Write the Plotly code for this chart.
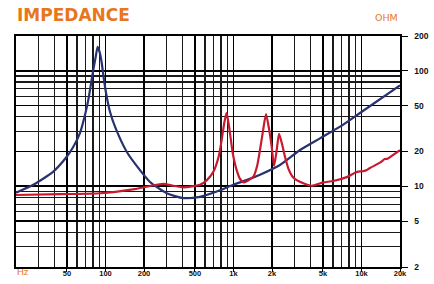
import plotly.graph_objects as go

# ---- text ----
title_text = "IMPEDANCE"
unit_text = "OHM"
freq_unit = "Hz"

# ---- data ----
blue_freq = [20, 27.3, 39.1, 49.8, 56.1, 63.2, 69.2, 73.4, 80.3, 83.9, 86.9, 90.6, 93.5,
             97.4, 102.3, 108.5, 118.7, 146.5, 186, 223, 301, 406, 548, 740, 997,
             1264, 1611, 2309, 3311, 4743, 6796, 9739, 20000]
blue_ohm = [8.8, 10.3, 13.4, 18.0, 22.0, 28.9, 41.4, 55.8, 101.6, 132, 161, 141.6, 116.8,
            83.2, 59.6, 44.2, 32.8, 19.9, 13.8, 10.9, 8.7, 7.9, 8.1, 9.0, 10.3,
            11.3, 12.6, 15.3, 20.6, 26.0, 32.8, 43.1, 74.8]

red_freq = [20, 44, 91, 164, 223, 283, 339, 406, 548, 620, 700, 770, 809, 850, 882, 912,
            939, 990, 1059, 1130, 1208, 1300, 1429, 1530, 1611, 1700, 1795, 1890, 1989,
            2075, 2170, 2270, 2400, 2527, 2700, 2933, 3512, 4083, 5024, 6023, 7666,
            9200, 10300, 11000, 11670, 13960, 15200, 16000, 16710, 20000]
red_ohm = [8.4, 8.55, 8.7, 9.4, 10.05, 10.5, 10.1, 9.8, 10.3, 11.3, 13.5, 18.5, 25.2, 36,
           43, 36, 28.9, 19, 13.8, 11.5, 10.8, 11.2, 12.1, 15, 20.6, 30, 42.2, 32, 22.0,
           15.0, 20, 28.4, 23, 18.0, 14, 11.9, 10.6, 10.1, 10.8, 11.1, 12.0,
           13.3, 13.5, 13.8, 14.4, 16.0, 17.2, 17.3, 17.9, 20.5]

# ---- axes ----
x_tick_vals = [50, 100, 200, 500, 1000, 2000, 5000, 10000, 20000]
x_tick_text = ["50", "100", "200", "500", "1k", "2k", "5k", "10k", "20k"]
x_minor_vals = [30, 40, 60, 70, 80, 90, 300, 400, 600, 700, 800, 900,
                3000, 4000, 6000, 7000, 8000, 9000]
y_tick_vals = [2, 5, 10, 20, 50, 100, 200]
y_tick_text = ["2", "5", "10", "20", "50", "100", "200"]
y_minor_vals = [3, 4, 6, 7, 8, 9, 30, 40, 60, 70, 80, 90]

ORANGE = "#E8761C"
BLUE = "#28326F"
RED = "#C8192E"

fig = go.Figure()
fig.add_trace(go.Scatter(x=blue_freq, y=blue_ohm, mode="lines",
                         line=dict(color=BLUE, width=2.2, shape="spline", smoothing=0.6),
                         hoverinfo="skip"))
fig.add_trace(go.Scatter(x=red_freq, y=red_ohm, mode="lines",
                         line=dict(color=RED, width=2.2, shape="spline", smoothing=0.6),
                         hoverinfo="skip"))

fig.update_layout(
    width=434, height=284,
    margin=dict(l=16, r=34, t=36, b=17),
    paper_bgcolor="white", plot_bgcolor="white",
    showlegend=False,
    xaxis=dict(
        type="log", range=[1.30103, 4.30103],
        tickmode="array", tickvals=x_tick_vals, ticktext=x_tick_text,
        ticks="outside", ticklen=3, tickcolor="black", tickwidth=1,
        tickfont=dict(family="Liberation Sans", size=7.5, color="#111111", weight="bold"),
        ticklabelstandoff=-5,
        showgrid=True, gridcolor="#000000", gridwidth=1.6,
        minor=dict(tickmode="array", tickvals=x_minor_vals, showgrid=True,
                   gridcolor="#1a1a1a", gridwidth=1.2, ticks=""),
        showline=True, mirror=True, linecolor="black", linewidth=1.6,
        zeroline=False, fixedrange=True, automargin=False,
    ),
    yaxis=dict(
        type="log", range=[0.30103, 2.30103], side="right",
        tickmode="array", tickvals=y_tick_vals, ticktext=y_tick_text,
        ticks="outside", ticklen=6, tickcolor="black", tickwidth=1,
        tickfont=dict(family="Liberation Sans", size=8.5, color="#111111", weight="bold"),
        ticklabelstandoff=5,
        showgrid=True, gridcolor="#000000", gridwidth=1.6,
        minor=dict(tickmode="array", tickvals=y_minor_vals, showgrid=True,
                   gridcolor="#1a1a1a", gridwidth=1.2, ticks=""),
        showline=True, mirror=True, linecolor="black", linewidth=1.6,
        zeroline=False, fixedrange=True, automargin=False,
    ),
    annotations=[
        dict(text=title_text, xref="paper", yref="paper", x=-0.003, y=1.093,
             xanchor="left", yanchor="middle", showarrow=False,
             font=dict(family="DejaVu Sans", size=17, color=ORANGE, weight="bold")),
        dict(text=unit_text, xref="paper", yref="paper", x=1.0, y=1.078,
             xanchor="right", yanchor="middle", showarrow=False,
             font=dict(family="DejaVu Sans", size=9.5, color=ORANGE)),
        dict(text=freq_unit, xref="paper", yref="paper", x=-0.003, y=-0.02,
             xanchor="left", yanchor="middle", showarrow=False,
             font=dict(family="Liberation Sans", size=9.5, color=ORANGE)),
    ],
)

fig.write_html("out.html", config={"displayModeBar": False, "staticPlot": True},
               post_script="document.body.style.margin='0px';document.body.style.overflow='hidden';")
